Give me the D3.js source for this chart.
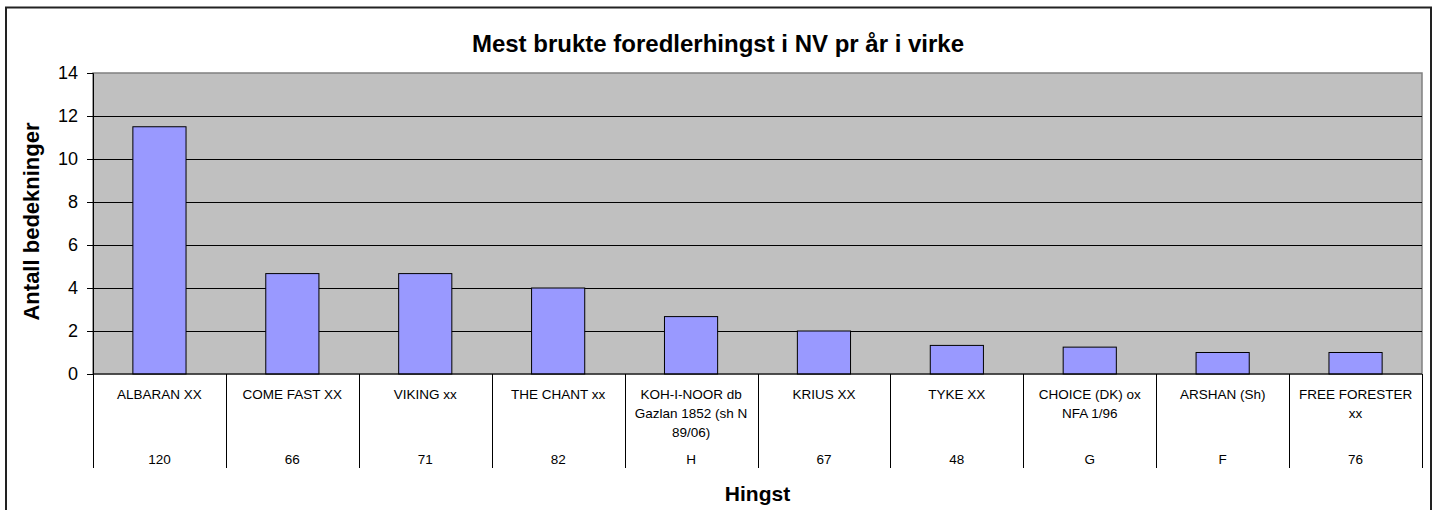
<!DOCTYPE html>
<html>
<head>
<meta charset="utf-8">
<script src="https://cdn.jsdelivr.net/npm/d3@7"></script>
<style>
  body { margin: 0; background: #fff; }
  svg { display: block; font-family: "Liberation Sans", Arial, sans-serif; }
</style>
</head>
<body>
<div id="chart"></div>
<script>
// hingstene, linjeskift som i originalen
const hingster = [
  "ALBARAN XX",
  "COME FAST XX",
  "VIKING xx",
  "THE CHANT xx",
  "KOH-I-NOOR db\nGazlan 1852 (sh N\n89/06)",
  "KRIUS XX",
  "TYKE XX",
  "CHOICE (DK) ox\nNFA 1/96",
  "ARSHAN (Sh)",
  "FREE FORESTER\nxx"
];
const koder = ["120", "66", "71", "82", "H", "67", "48", "G", "F", "76"];
const bedekninger = [11.5, 4.67, 4.67, 4.0, 2.67, 2.0, 1.33, 1.25, 1.0, 1.0];
const yTicks = [0, 2, 4, 6, 8, 10, 12, 14];

const width = 1436;
const height = 510;
const plot = { left: 93, right: 1422, top: 73, bottom: 374 };
const tickBottom = 468;

const svg = d3.select('#chart')
  .append('svg')
  .attr('width', width)
  .attr('height', height);

// outer frame (runs past bottom edge like in the original)
svg.append('rect')
  .attr('x', 6).attr('y', 7.5)
  .attr('width', 1425).attr('height', 530)
  .attr('fill', '#fff')
  .attr('stroke', '#222')
  .attr('stroke-width', 2);

const x = d3.scaleBand()
  .domain(d3.range(hingster.length))
  .range([plot.left, plot.right])
  .padding(0);

const y = d3.scaleLinear()
  .domain([0, 14])
  .range([plot.bottom, plot.top]);

// plot area
svg.append('rect')
  .attr('x', plot.left).attr('y', plot.top)
  .attr('width', plot.right - plot.left)
  .attr('height', plot.bottom - plot.top)
  .attr('fill', '#c0c0c0')
  .attr('stroke', '#808080')
  .attr('stroke-width', 1.5);

// gridlines
svg.append('g')
  .selectAll('line')
  .data(yTicks.filter(t => t > 0 && t < 14))
  .enter()
  .append('line')
  .attr('x1', plot.left).attr('x2', plot.right)
  .attr('y1', d => Math.round(y(d)) + 0.5)
  .attr('y2', d => Math.round(y(d)) + 0.5)
  .attr('stroke', '#000')
  .attr('stroke-width', 1);

// bars
const barW = x.bandwidth() / 2.5;
svg.append('g')
  .selectAll('rect')
  .data(bedekninger)
  .enter()
  .append('rect')
  .attr('x', (d, i) => x(i) + (x.bandwidth() - barW) / 2)
  .attr('y', d => y(d))
  .attr('width', barW)
  .attr('height', d => y(0) - y(d))
  .attr('fill', '#9999ff')
  .attr('stroke', '#000')
  .attr('stroke-width', 1);

// y axis
const yAxis = d3.axisLeft(y)
  .tickValues(yTicks)
  .tickSize(6)
  .tickPadding(9)
  .tickFormat(d3.format('d'));

const gy = svg.append('g')
  .attr('transform', `translate(${plot.left},0)`)
  .call(yAxis);
gy.select('.domain').attr('stroke', '#000');
gy.selectAll('.tick line').attr('stroke', '#000');
gy.selectAll('.tick text')
  .attr('font-size', 18)
  .attr('font-family', '"Liberation Sans", Arial, sans-serif')
  .attr('fill', '#000');

// x axis line and category dividers
svg.append('line')
  .attr('x1', plot.left).attr('x2', plot.right)
  .attr('y1', plot.bottom).attr('y2', plot.bottom)
  .attr('stroke', '#000');

const grenser = d3.range(hingster.length + 1).map(i => i < hingster.length ? x(i) : x.range()[1]);
svg.append('g')
  .selectAll('line')
  .data(grenser)
  .enter()
  .append('line')
  .attr('x1', d => Math.round(d) + 0.5).attr('x2', d => Math.round(d) + 0.5)
  .attr('y1', plot.bottom).attr('y2', tickBottom)
  .attr('stroke', '#000');

// category names
const navn = svg.append('g')
  .selectAll('text')
  .data(hingster)
  .enter()
  .append('text')
  .attr('x', (d, i) => x(i) + x.bandwidth() / 2)
  .attr('y', 399)
  .attr('text-anchor', 'middle')
  .attr('font-size', 13.5)
  .attr('fill', '#000');

navn.each(function (d, i) {
  const el = d3.select(this);
  d.split('\n').forEach((line, k) => {
    el.append('tspan')
      .attr('x', x(i) + x.bandwidth() / 2)
      .attr('dy', k === 0 ? 0 : 19)
      .text(line);
  });
});

// codes row
svg.append('g')
  .selectAll('text')
  .data(koder)
  .enter()
  .append('text')
  .attr('x', (d, i) => x(i) + x.bandwidth() / 2)
  .attr('y', 464)
  .attr('text-anchor', 'middle')
  .attr('font-size', 13.5)
  .attr('fill', '#000')
  .text(d => d);

// titles
svg.append('text')
  .attr('x', 718).attr('y', 52)
  .attr('text-anchor', 'middle')
  .attr('font-size', 24)
  .attr('font-weight', 'bold')
  .text('Mest brukte foredlerhingst i NV pr år i virke');

svg.append('text')
  .attr('transform', `translate(39,${(plot.top + plot.bottom) / 2 - 2}) rotate(-90)`)
  .attr('text-anchor', 'middle')
  .attr('font-size', 22)
  .attr('font-weight', 'bold')
  .text('Antall bedekninger');

svg.append('text')
  .attr('x', (plot.left + plot.right) / 2).attr('y', 501)
  .attr('text-anchor', 'middle')
  .attr('font-size', 21)
  .attr('font-weight', 'bold')
  .text('Hingst');
</script>
</body>
</html>
